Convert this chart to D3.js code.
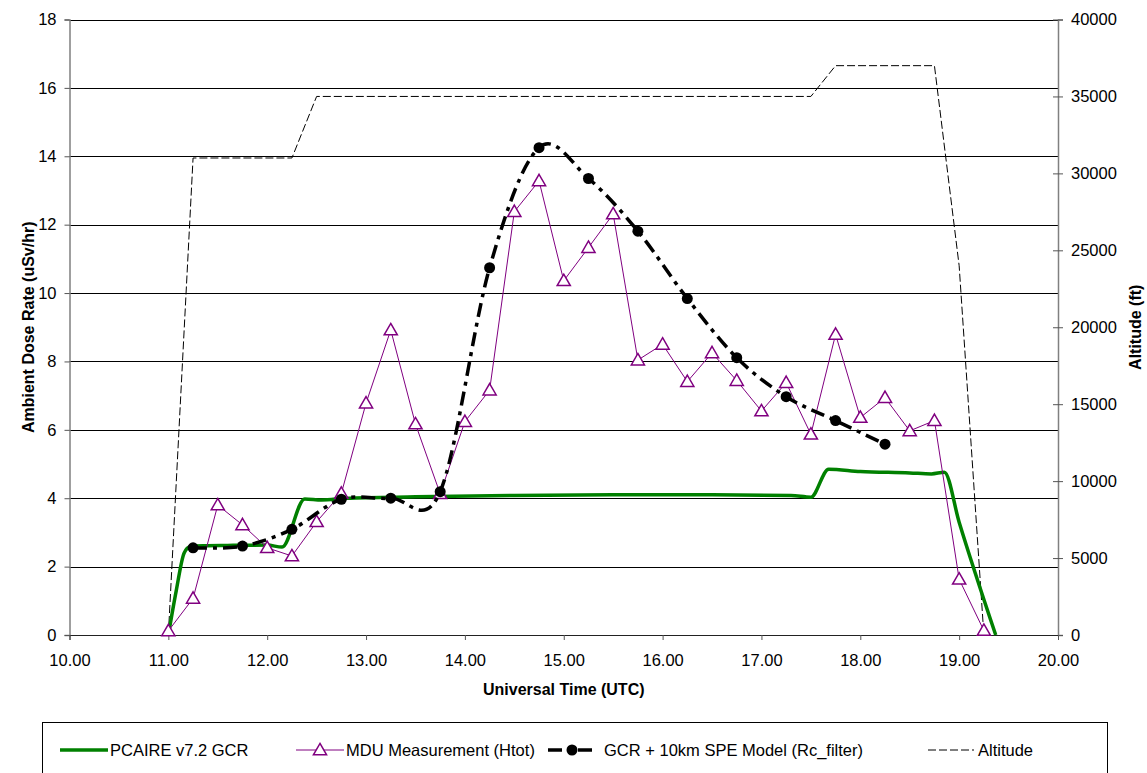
<!DOCTYPE html>
<html>
<head>
<meta charset="utf-8">
<script src="https://cdn.jsdelivr.net/npm/d3@7"></script>
<style>
    body { margin: 0; background: #fff; }
    svg { font-family: "Liberation Sans", Arial, sans-serif; }
</style>
</head>
<body>
<svg id="chart"></svg>
<script>
// Data (time in hours UTC)
const mduTime = [11.00, 11.25, 11.50, 11.75, 12.00, 12.25, 12.50, 12.75, 13.00, 13.25, 13.50, 13.75,
    14.00, 14.25, 14.50, 14.75, 15.00, 15.25, 15.50, 15.75, 16.00, 16.25, 16.50, 16.75,
    17.00, 17.25, 17.50, 17.75, 18.00, 18.25, 18.50, 18.75, 19.00, 19.25];
const mduDose = [0.12, 1.07, 3.80, 3.22, 2.55, 2.31, 3.31, 4.14, 6.78, 8.92, 6.17, 4.13,
    6.24, 7.16, 12.38, 13.28, 10.36, 11.33, 12.31, 8.04, 8.50, 7.41, 8.25, 7.44,
    6.55, 7.38, 5.87, 8.79, 6.36, 6.94, 5.97, 6.27, 1.63, 0.13];

const modelTime = [11.25, 11.75, 12.25, 12.75, 13.25, 13.75, 14.25, 14.75, 15.25, 15.75, 16.25, 16.75, 17.25, 17.75, 18.25];
const modelDose = [2.55, 2.60, 3.09, 3.97, 4.00, 4.19, 10.74, 14.25, 13.35, 11.81, 9.84, 8.11, 6.97, 6.27, 5.58];

const pcaireTime = [11.00, 11.08, 11.16, 11.22, 11.35, 11.60, 12.00, 12.15, 12.38, 12.55, 12.80, 13.50, 14.50, 15.50, 16.50,
    17.30, 17.50, 17.68, 18.00, 18.50, 18.72, 18.85, 19.00, 19.37];
const pcaireDose = [0.0, 1.30, 2.40, 2.58, 2.61, 2.62, 2.63, 2.57, 3.98, 3.95, 4.00, 4.04, 4.08, 4.10, 4.10,
    4.08, 4.03, 4.85, 4.78, 4.74, 4.71, 4.76, 3.30, 0.0];

const altTime = [11.00, 11.25, 12.25, 12.50, 17.50, 17.75, 18.75, 19.00, 19.25];
const altFeet = [0, 31000, 31000, 35000, 35000, 37000, 37000, 24000, 0];

const xTicks = [10, 11, 12, 13, 14, 15, 16, 17, 18, 19, 20];
const doseTicks = [0, 2, 4, 6, 8, 10, 12, 14, 16, 18];
const altTicks = [0, 5000, 10000, 15000, 20000, 25000, 30000, 35000, 40000];

const legendLabels = ["PCAIRE v7.2 GCR", "MDU Measurement (Htot)", "GCR + 10km SPE Model (Rc_filter)", "Altitude"];

// Size of the page and the plot area
const W = 1147, H = 773;
const plot = { left: 69.5, right: 1058, top: 19.5, bottom: 635 };

const svg = d3.select("#chart")
    .attr("width", W)
    .attr("height", H);

// Scales
const x = d3.scaleLinear().domain([10, 20]).range([plot.left, plot.right]);
const y = d3.scaleLinear().domain([0, 18]).range([plot.bottom, plot.top]);
const yAlt = d3.scaleLinear().domain([0, 40000]).range([plot.bottom, plot.top]);

// Horizontal gridlines
svg.append("g")
    .selectAll("line")
    .data(doseTicks)
    .enter()
    .append("line")
    .attr("x1", plot.left)
    .attr("x2", plot.right)
    .attr("y1", d => Math.round(y(d)) + 0.5)
    .attr("y2", d => Math.round(y(d)) + 0.5)
    .attr("stroke", "#000")
    .attr("stroke-width", 1);

// Left axis
const leftAxis = svg.append("g")
    .attr("transform", `translate(${plot.left},0)`)
    .call(d3.axisLeft(y).tickValues(doseTicks).tickSizeOuter(0).tickSize(5).tickPadding(8).tickFormat(d3.format("d")));

// Right axis, ticks cross the line
const rightAxis = svg.append("g")
    .attr("transform", `translate(${plot.right},0)`)
    .call(d3.axisRight(yAlt).tickValues(altTicks).tickSizeOuter(0).tickSize(5).tickPadding(8).tickFormat(d3.format("d")));
rightAxis.selectAll(".tick line").attr("x1", -5);

// Bottom axis
const bottomAxis = svg.append("g")
    .attr("transform", `translate(0,${plot.bottom})`)
    .call(d3.axisBottom(x).tickValues(xTicks).tickSizeOuter(0).tickSize(5).tickPadding(14).tickFormat(d3.format(".2f")));

[leftAxis, rightAxis, bottomAxis].forEach(a => {
    a.select(".domain").attr("stroke", "#808080").attr("stroke-width", 1.5);
    a.selectAll(".tick line").attr("stroke", "#555");
    a.selectAll("text")
        .attr("fill", "#000")
        .style("font-size", "16.5px")
        .style("font-family", "'Liberation Sans', Arial, sans-serif");
});
bottomAxis.select(".domain").attr("stroke", "#222").attr("stroke-width", 1);

// Altitude (dashed, right axis)
const altData = altTime.map((t, i) => [t, altFeet[i]]);
svg.append("path")
    .datum(altData)
    .attr("fill", "none")
    .attr("stroke", "#000")
    .attr("stroke-width", 1)
    .attr("stroke-dasharray", "8,3")
    .attr("d", d3.line().x(d => x(d[0])).y(d => yAlt(d[1])));

// PCAIRE model line
const pcaireData = pcaireTime.map((t, i) => [t, pcaireDose[i]]);
svg.append("path")
    .datum(pcaireData)
    .attr("fill", "none")
    .attr("stroke", "#008000")
    .attr("stroke-width", 3.5)
    .attr("stroke-linejoin", "round")
    .attr("d", d3.line().x(d => x(d[0])).y(d => y(d[1])).curve(d3.curveMonotoneX));

// MDU measurement line with open triangles
const mduData = mduTime.map((t, i) => [t, mduDose[i]]);
svg.append("path")
    .datum(mduData)
    .attr("fill", "none")
    .attr("stroke", "#800080")
    .attr("stroke-width", 1)
    .attr("d", d3.line().x(d => x(d[0])).y(d => y(d[1])));

const tri = d3.symbol().type(d3.symbolTriangle).size(75);
svg.append("g")
    .selectAll("path")
    .data(mduData)
    .enter()
    .append("path")
    .attr("d", tri)
    .attr("transform", d => `translate(${x(d[0])},${y(d[1]) + 1})`)
    .attr("fill", "#fff")
    .attr("stroke", "#800080")
    .attr("stroke-width", 1.5);

// GCR + SPE model, smoothed dash-dot with dots
const modelData = modelTime.map((t, i) => [t, modelDose[i]]);
svg.append("path")
    .datum(modelData)
    .attr("fill", "none")
    .attr("stroke", "#000")
    .attr("stroke-width", 3.5)
    .attr("stroke-dasharray", "14,6,4,6")
    .attr("d", d3.line().x(d => x(d[0])).y(d => y(d[1])).curve(d3.curveCatmullRom.alpha(0)));

svg.append("g")
    .selectAll("circle")
    .data(modelData)
    .enter()
    .append("circle")
    .attr("cx", d => x(d[0]))
    .attr("cy", d => y(d[1]))
    .attr("r", 5.5)
    .attr("fill", "#000");

// Axis titles
svg.append("text")
    .attr("transform", `translate(28,${(plot.top + plot.bottom) / 2}) rotate(-90)`)
    .attr("text-anchor", "middle")
    .attr("dominant-baseline", "central")
    .style("font-size", "16px")
    .style("font-weight", "bold")
    .text("Ambient Dose Rate (uSv/hr)");

svg.append("text")
    .attr("transform", `translate(1135,${(plot.top + plot.bottom) / 2}) rotate(-90)`)
    .attr("text-anchor", "middle")
    .attr("dominant-baseline", "central")
    .style("font-size", "16px")
    .style("font-weight", "bold")
    .text("Altitude (ft)");

svg.append("text")
    .attr("x", (plot.left + plot.right) / 2)
    .attr("y", 695)
    .attr("text-anchor", "middle")
    .style("font-size", "16px")
    .style("font-weight", "bold")
    .text("Universal Time (UTC)");

// Legend box
svg.append("rect")
    .attr("x", 42.5)
    .attr("y", 722.5)
    .attr("width", 1065)
    .attr("height", 70)
    .attr("fill", "#fff")
    .attr("stroke", "#000")
    .attr("stroke-width", 1);

const legendY = 750;
const legendX = [60, 296, 548, 928];
const legend = svg.append("g");

legendLabels.forEach((label, i) => {
    const g = legend.append("g").attr("transform", `translate(${legendX[i]},${legendY})`);
    if (i === 0) {
        g.append("line").attr("x1", 0).attr("x2", 48).attr("stroke", "#008000").attr("stroke-width", 3.5);
    } else if (i === 1) {
        g.append("line").attr("x1", 0).attr("x2", 48).attr("stroke", "#800080").attr("stroke-width", 1);
        g.append("path").attr("d", tri).attr("transform", "translate(24,1)")
            .attr("fill", "#fff").attr("stroke", "#800080").attr("stroke-width", 1.5);
    } else if (i === 2) {
        g.append("line").attr("x1", 0).attr("x2", 48).attr("stroke", "#000").attr("stroke-width", 3.5)
            .attr("stroke-dasharray", "14,6,4,6");
        g.append("circle").attr("cx", 24).attr("cy", 0).attr("r", 5.5).attr("fill", "#000");
    } else {
        g.append("line").attr("x1", 0).attr("x2", 46).attr("stroke", "#000").attr("stroke-width", 1)
            .attr("stroke-dasharray", "8,3");
    }
    g.append("text")
        .attr("x", i === 2 ? 56 : 50)
        .attr("y", 0)
        .attr("dy", "0.35em")
        .style("font-size", "16.5px")
        .text(label);
});
</script>
</body>
</html>
